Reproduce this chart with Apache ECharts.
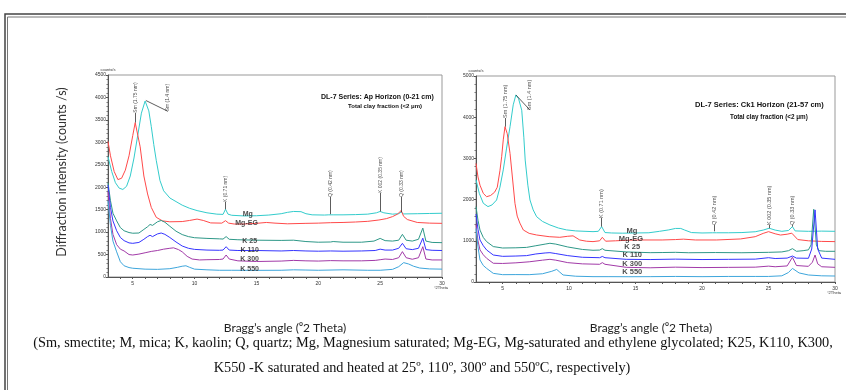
<!DOCTYPE html>
<html>
<head>
<meta charset="utf-8">
<script src="https://cdn.jsdelivr.net/npm/echarts@6/dist/echarts.min.js"></script>
<style>
html, body { margin: 0; padding: 0; background: #fff; }
#main { width: 846px; height: 390px; }
</style>
</head>
<body>
<div id="main"></div>
<script>
// tick labels
var xLabelVals = [5, 10, 15, 20, 25, 30];
var xTickVals = [4, 5, 6, 7, 8, 9, 10, 11, 12, 13, 14, 15, 16, 17, 18, 19, 20, 21, 22, 23, 24, 25, 26, 27, 28, 29, 30];

// Ap horizon (0-21 cm) : [2theta, counts/s]
var apMg = [[3,2680],[3.3,2350],[3.6,2100],[3.9,1980],[4.2,1950],[4.5,2020],[4.8,2250],[5.1,2650],[5.4,3150],[5.7,3650],[6.0,3920],[6.1,3930],[6.3,3700],[6.5,3350],[6.7,2950],[6.9,2600],[7.2,2150],[7.5,1920],[8.0,1760],[8.5,1680],[9.0,1600],[9.6,1530],[10.2,1480],[11.0,1430],[11.8,1400],[12.3,1395],[12.5,1510],[12.7,1400],[13.0,1375],[14.0,1360],[15.0,1365],[16.0,1380],[17.0,1410],[17.5,1440],[18.0,1460],[18.6,1455],[19.0,1410],[19.5,1385],[20.5,1380],[20.85,1385],[21.0,1400],[21.2,1385],[22.0,1385],[23.0,1390],[24.0,1400],[24.7,1430],[25.0,1460],[25.3,1430],[26.0,1400],[26.5,1410],[26.7,1445],[26.9,1405],[28.0,1410],[29.0,1415],[30,1420]];
var apMgEG = [[3,3020],[3.2,2700],[3.5,2350],[3.8,2170],[4.1,2200],[4.4,2380],[4.7,2700],[5.0,3150],[5.2,3440],[5.35,3400],[5.6,2900],[5.9,2250],[6.2,1850],[6.5,1550],[6.9,1330],[7.4,1250],[8.0,1230],[9.0,1235],[9.6,1260],[10.2,1290],[10.7,1260],[11.3,1205],[12.2,1200],[12.5,1255],[12.75,1200],[13.2,1180],[14.0,1180],[15.0,1195],[15.8,1215],[16.5,1200],[17.5,1185],[19.0,1195],[20.0,1200],[21.0,1210],[22.0,1215],[23.0,1225],[24.0,1240],[24.9,1270],[25.5,1300],[26.0,1345],[26.4,1400],[26.7,1480],[26.9,1350],[27.2,1280],[28.0,1215],[29.0,1200],[30,1195]];
var apK25 = [[3,2100],[3.2,1700],[3.4,1420],[3.7,1250],[4.0,1100],[4.3,1030],[4.7,990],[5.0,975],[5.5,980],[5.9,1060],[6.2,1120],[6.4,1170],[6.6,1150],[7.0,1230],[7.3,1260],[7.6,1220],[8.0,1130],[8.5,1020],[9.0,945],[9.5,900],[10.0,875],[11.0,860],[12.0,850],[12.3,845],[12.55,900],[12.8,840],[13.5,830],[15.0,820],[17.0,815],[18.0,820],[19.0,790],[20.0,775],[21.0,780],[21.2,790],[22.0,775],[23.5,775],[24.5,800],[25.0,860],[25.4,810],[26.0,800],[26.5,820],[26.8,950],[27.1,820],[27.6,800],[28.1,840],[28.45,1090],[28.7,800],[29.2,770],[30,765]];
var apK110 = [[3,2050],[3.2,1550],[3.4,1250],[3.7,1030],[4.0,880],[4.3,810],[4.7,760],[5.0,750],[5.5,770],[5.9,840],[6.2,900],[6.4,930],[6.6,900],[7.0,960],[7.3,980],[7.6,950],[8.0,880],[8.5,780],[9.0,690],[9.5,640],[10.0,615],[11.0,600],[12.0,595],[12.3,600],[12.55,675],[12.8,600],[13.5,590],[15.0,590],[17.0,580],[18.0,590],[19.0,580],[20.0,575],[21.0,580],[22.0,575],[23.5,580],[24.6,590],[25.0,620],[25.4,600],[26.0,600],[26.5,640],[26.8,750],[27.1,630],[27.6,610],[28.1,640],[28.45,865],[28.7,610],[29.2,595],[30,590]];
var apK300 = [[3,1900],[3.2,1300],[3.4,950],[3.7,720],[4.0,620],[4.3,580],[4.7,500],[5.0,490],[5.5,510],[6.0,540],[6.5,570],[7.0,590],[7.5,620],[8.0,640],[8.3,650],[8.7,610],[9.0,560],[9.4,460],[9.8,400],[10.4,380],[11.0,385],[12.0,390],[12.3,400],[12.55,490],[12.8,400],[13.5,360],[15.0,345],[17.0,355],[18.0,370],[19.0,360],[20.0,355],[21.0,365],[22.0,360],[23.5,360],[24.6,370],[25.0,385],[25.4,400],[26.0,390],[26.5,430],[26.8,565],[27.1,430],[27.6,395],[28.1,430],[28.45,675],[28.7,400],[29.2,380],[30,380]];
var apK550 = [[3,1700],[3.2,1150],[3.4,800],[3.7,560],[4.0,340],[4.3,250],[4.7,210],[5.0,195],[6.0,175],[7.0,170],[8.0,185],[8.6,215],[9.0,240],[9.3,250],[9.6,215],[10.0,175],[11.0,160],[12.0,150],[13.0,150],[15.0,148],[17.0,150],[18.0,160],[19.0,155],[20.0,150],[22.0,160],[24.0,150],[25.0,150],[26.0,170],[26.5,230],[26.9,320],[27.3,290],[27.7,240],[28.2,200],[29.0,180],[30,175]];

// Ck1 horizon (21-57 cm)
var ckMg = [[3,2480],[3.25,2150],[3.55,1910],[3.9,1830],[4.2,1870],[4.55,1990],[4.8,2300],[5.05,2720],[5.3,3250],[5.56,3770],[5.8,4300],[6.0,4540],[6.2,4450],[6.44,4170],[6.6,3500],[6.7,2960],[6.9,2350],[7.06,1990],[7.3,1750],[7.56,1585],[8.0,1470],[8.56,1385],[9.2,1310],[9.8,1265],[10.5,1240],[11.2,1230],[11.8,1222],[12.2,1230],[12.45,1345],[12.7,1200],[13.2,1190],[14.0,1185],[15.0,1190],[16.0,1195],[16.8,1230],[17.5,1265],[18.0,1300],[18.4,1300],[18.7,1260],[19.2,1200],[20.0,1190],[20.8,1195],[20.95,1230],[21.1,1195],[22.0,1195],[23.0,1200],[24.0,1220],[24.6,1260],[25.05,1305],[25.5,1260],[26.0,1230],[26.5,1250],[26.8,1345],[27.0,1240],[28.0,1230],[29.0,1235],[30,1230]];
var ckMgEG = [[3,2880],[3.15,2550],[3.3,2350],[3.55,2150],[3.8,2070],[4.1,2100],[4.4,2180],[4.6,2300],[4.8,2700],[4.93,3040],[5.05,3450],[5.18,3770],[5.35,3600],[5.56,3120],[5.75,2500],[5.93,1910],[6.1,1600],[6.3,1430],[6.56,1262],[7.0,1180],[7.56,1141],[8.5,1100],[9.3,1085],[9.9,1110],[10.3,1120],[10.8,1020],[11.3,990],[11.8,980],[12.3,1000],[12.5,1085],[12.75,990],[13.5,1000],[14.5,1015],[15.5,1020],[17.0,1020],[18.0,1030],[18.6,1040],[19.5,1020],[20.9,1020],[21.0,1040],[21.1,1020],[22.9,1045],[24.0,1100],[24.6,1180],[25.0,1222],[25.5,1170],[25.9,1140],[26.4,1160],[26.75,1185],[27.2,1030],[28.0,1000],[29.0,985],[30,980]];
var ckK25 = [[3,1830],[3.15,1500],[3.3,1260],[3.55,1080],[3.8,980],[4.3,860],[5.0,825],[6.0,830],[6.8,840],[7.5,880],[8.2,920],[8.56,940],[9.0,920],[9.9,850],[11.0,790],[11.8,770],[12.3,775],[12.5,810],[12.7,770],[14.3,730],[16.1,712],[17.0,715],[18.0,720],[19.0,710],[21.0,715],[23.0,710],[25.0,720],[26.0,730],[26.5,760],[26.8,810],[27.1,745],[27.6,760],[28.0,780],[28.2,900],[28.4,1765],[28.6,900],[28.8,760],[29.3,745],[30,745]];
var ckK110 = [[3,1650],[3.15,1280],[3.3,1020],[3.55,880],[3.8,777],[4.3,655],[5.0,623],[6.0,630],[6.8,640],[7.5,680],[8.2,705],[8.56,712],[9.0,690],[9.9,640],[11.0,600],[12.3,590],[12.5,620],[12.7,590],[14.3,550],[16.1,545],[18.0,555],[20.0,545],[22.0,550],[24.0,555],[25.0,590],[25.5,570],[26.4,580],[26.8,630],[27.1,580],[28.0,575],[28.25,800],[28.5,1750],[28.7,800],[29.0,580],[30,550]];
var ckK300 = [[3,1400],[3.15,1000],[3.3,780],[3.55,660],[3.8,575],[4.3,455],[5.0,450],[6.0,465],[7.0,490],[8.0,530],[8.56,550],[9.0,530],[9.9,470],[11.0,440],[12.3,430],[12.5,470],[12.7,430],[14.3,356],[16.1,345],[18.0,360],[20.0,350],[22.0,355],[24.0,360],[25.0,385],[25.5,370],[26.4,390],[26.8,600],[27.1,400],[28.0,380],[28.3,480],[28.5,655],[28.7,440],[29.0,370],[30,356]];
var ckK550 = [[3,1300],[3.15,850],[3.3,535],[3.55,400],[3.8,330],[4.3,210],[5.0,178],[6.0,180],[7.0,178],[8.0,200],[8.7,260],[9.07,305],[9.3,240],[9.55,170],[10.5,140],[11.8,130],[13.0,130],[14.5,128],[16.1,130],[18.0,135],[20.0,130],[22.0,135],[24.0,135],[25.0,135],[26.0,150],[26.5,230],[26.8,330],[27.3,220],[28.0,170],[29.0,150],[30,145]];

// peak labels: [text, peak x, peak y, label x, label y]
var apPeaks = [
	['Sm (1.75 nm)', 5.2, 3441, 5.2, 3660],
	['Sm (1.4 nm)', 6.06, 3932, 7.85, 3690],
	['K (0.71 nm)', 12.5, 1510, 12.5, 1672],
	['Q (0.42 nm)', 21.0, 1400, 21.0, 1784],
	['K 002 (0.35 nm)', 25.0, 1460, 25.0, 1873],
	['Q (0.33 nm)', 26.7, 1445, 26.7, 1784]
];
var ckPeaks = [
	['Sm (1.75 nm)', 5.18, 3770, 5.18, 3980],
	['Sm (1.4 nm)', 6.0, 4540, 7.06, 4174],
	['K (0.71 nm)', 12.45, 1345, 12.45, 1553],
	['Q (0.42 nm)', 20.95, 1230, 20.95, 1383],
	['K 002 (0.35 nm)', 25.05, 1305, 25.05, 1383],
	['Q (0.33 nm)', 26.8, 1345, 26.8, 1383]
];

// treatment names on the curves: [text, x, y]
var apNames = [['Mg', 14.3, 1405], ['Mg-EG', 14.2, 1204], ['K 25', 14.45, 803], ['K 110', 14.45, 602], ['K 300', 14.45, 401], ['K 550', 14.45, 178]];
var ckNames = [['Mg', 14.73, 1238], ['Mg-EG', 14.65, 1044], ['K 25', 14.75, 850], ['K 110', 14.75, 655], ['K 300', 14.75, 437], ['K 550', 14.75, 243]];

var colors = ['#33cccc', '#ff4a4a', '#2e9888', '#3535ff', '#a23aa8', '#3ea6dc'];
var names = ['Mg', 'Mg-EG', 'K 25', 'K 110', 'K 300', 'K 550'];

var chart = echarts.init(document.getElementById('main'));

function xAxisCfg(idx) {
	return {
		gridIndex: idx,
		type: 'value',
		min: 3,
		max: 30,
		name: '°2Theta',
		nameLocation: 'end',
		nameGap: -8,
		nameTextStyle: { fontSize: 4, color: '#333', verticalAlign: 'top', padding: [9, 0, 0, 0] },
		axisLine: { lineStyle: { color: '#555', width: 1 } },
		axisTick: { customValues: xTickVals, length: 2, lineStyle: { color: '#555' } },
		axisLabel: { customValues: xLabelVals, fontSize: 5, color: '#333', margin: 4 },
		splitLine: { show: false }
	};
}

function yAxisCfg(idx, max, step) {
	return {
		gridIndex: idx,
		type: 'value',
		min: 0,
		max: max,
		interval: step,
		name: 'counts/s',
		nameLocation: 'end',
		nameGap: 3,
		nameTextStyle: { fontSize: 4, color: '#333', align: 'center' },
		axisLine: { show: true, lineStyle: { color: '#555', width: 1 } },
		axisTick: { show: true, length: 2, lineStyle: { color: '#555' } },
		minorTick: { show: true, splitNumber: 5, length: 1.5, lineStyle: { color: '#777' } },
		axisLabel: { fontSize: 5, color: '#333', margin: 2, formatter: function(v) { return String(v); } },
		splitLine: { show: false }
	};
}

function curves(list, idx) {
	return list.map(function(d, i) {
		return {
			name: names[i],
			type: 'line',
			xAxisIndex: idx,
			yAxisIndex: idx,
			data: d,
			symbol: 'none',
			lineStyle: { color: colors[i], width: 1 },
			z: 3
		};
	});
}

function peakSeries(peaks, idx, fs) {
	return {
		type: 'scatter',
		xAxisIndex: idx,
		yAxisIndex: idx,
		symbolSize: 0,
		silent: true,
		data: peaks.map(function(p) { return { name: p[0], value: [p[3], p[4]] }; }),
		label: {
			show: true,
			formatter: '{b}',
			position: 'inside',
			rotate: 90,
			align: 'left',
			verticalAlign: 'middle',
			fontSize: fs,
			fontFamily: 'Liberation Sans',
			color: '#222'
		},
		markLine: {
			silent: true,
			symbol: ['none', 'none'],
			label: { show: false },
			lineStyle: { color: '#333', width: 0.8, type: 'solid' },
			data: peaks.map(function(p) { return [{ coord: [p[1], p[2]] }, { coord: [p[3], p[4]] }]; })
		},
		z: 5
	};
}

function nameSeries(list, idx, fs) {
	return {
		type: 'scatter',
		xAxisIndex: idx,
		yAxisIndex: idx,
		symbolSize: 0,
		silent: true,
		data: list.map(function(n) { return { name: n[0], value: [n[1], n[2]] }; }),
		label: {
			show: true,
			formatter: '{b}',
			position: 'inside',
			fontSize: fs,
			fontWeight: 'bold',
			fontFamily: 'Liberation Sans',
			color: '#222'
		},
		z: 6
	};
}

var option = {
	animation: false,
	backgroundColor: '#fff',
	title: [
		{ text: 'DL-7 Series: Ap Horizon (0-21 cm)', left: 316, top: 89, textStyle: { fontSize: 7, fontWeight: 'bold', fontFamily: 'Liberation Sans', color: '#111' } },
		{ text: 'Total clay fraction (<2 μm)', left: 343, top: 98, textStyle: { fontSize: 6, fontWeight: 'bold', fontFamily: 'Liberation Sans', color: '#111' } },
		{ text: 'DL-7 Series: Ck1 Horizon (21-57 cm)', left: 690, top: 96, textStyle: { fontSize: 7.5, fontWeight: 'bold', fontFamily: 'Liberation Sans', color: '#111' } },
		{ text: 'Total clay fraction (<2 μm)', left: 725, top: 109, textStyle: { fontSize: 6.3, fontWeight: 'bold', fontFamily: 'Liberation Sans', color: '#111' } }
	],
	grid: [
		{ left: 108, top: 75, right: 404, bottom: 113, show: true, borderColor: '#999', borderWidth: 1 },
		{ left: 476, top: 76, right: 11, bottom: 108, show: true, borderColor: '#999', borderWidth: 1 }
	],
	xAxis: [xAxisCfg(0), xAxisCfg(1)],
	yAxis: [yAxisCfg(0, 4500, 500), yAxisCfg(1, 5000, 1000)],
	series: []
		.concat(curves([apMg, apMgEG, apK25, apK110, apK300, apK550], 0))
		.concat(curves([ckMg, ckMgEG, ckK25, ckK110, ckK300, ckK550], 1))
		.concat([peakSeries(apPeaks, 0, 5), peakSeries(ckPeaks, 1, 5.5), nameSeries(apNames, 0, 7), nameSeries(ckNames, 1, 7.5)]),
	graphic: [
		{ type: 'rect', silent: true, z: -10, shape: { x: 5, y: 14, width: 900, height: 500 }, style: { fill: 'none', stroke: '#444', lineWidth: 1.5 } },
		{ type: 'rect', silent: true, z: -10, shape: { x: 7.5, y: 17, width: 900, height: 500 }, style: { fill: 'none', stroke: '#777', lineWidth: 1 } },
		{ type: 'text', x: 62, y: 172, rotation: Math.PI / 2, style: { text: 'Diffraction intensity (counts /s)', font: '12.5px Lato', fill: '#333', align: 'center', verticalAlign: 'middle' } },
		{ type: 'text', x: 285, y: 328, style: { text: 'Bragg’s angle (⁰2 Theta)', font: '12px Lato', fill: '#222', align: 'center', verticalAlign: 'middle' } },
		{ type: 'text', x: 651, y: 328, style: { text: 'Bragg’s angle (⁰2 Theta)', font: '12px Lato', fill: '#222', align: 'center', verticalAlign: 'middle' } },
		{ type: 'text', x: 433, y: 343, style: { text: '(Sm, smectite; M, mica; K, kaolin; Q, quartz; Mg, Magnesium saturated; Mg-EG, Mg-saturated and ethylene glycolated; K25, K110, K300,', font: '14.3px "Liberation Serif"', fill: '#111', align: 'center', verticalAlign: 'middle' } },
		{ type: 'text', x: 422, y: 368, style: { text: 'K550 -K saturated and heated at 25º, 110º, 300º and 550ºC, respectively)', font: '14.3px "Liberation Serif"', fill: '#111', align: 'center', verticalAlign: 'middle' } }
	]
};

chart.setOption(option);
</script>
</body>
</html>
